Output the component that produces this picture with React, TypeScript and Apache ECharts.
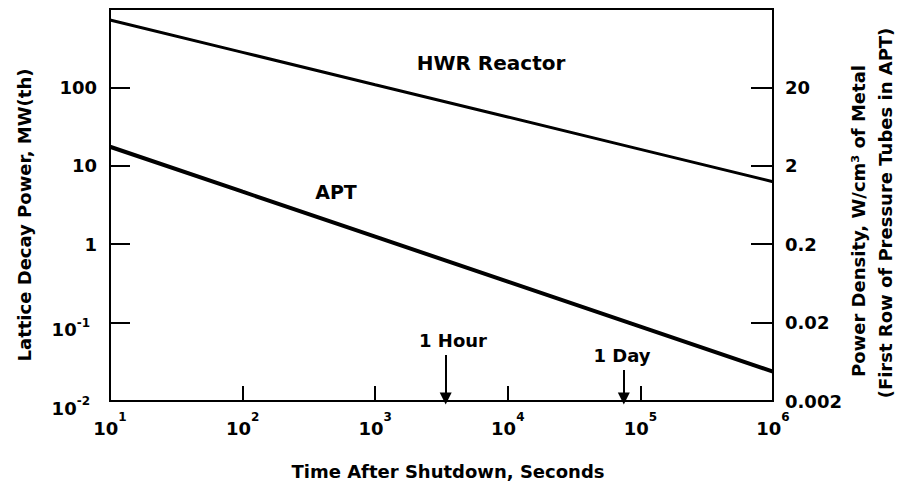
import React, { useEffect, useRef } from "react";
import * as echarts from "echarts";

// Time after shutdown, seconds
const times = [10, 100, 1000, 10000, 100000, 1000000];
// Lattice decay power, MW(th)
const hwrPower = [724, 280, 108, 41.9, 16.2, 6.27];
const aptPower = [17.5, 4.67, 1.25, 0.333, 0.0888, 0.0237];
// Right axis: power density labels at the left-axis decades
const rightTickLabels = ["0.002", "0.02", "0.2", "2", "20", ""];
const leftExponents = [-2, -1, 0, 1, 2, 3];
// Markers (time, arrow start value on left axis)
const hourMarker = { time: 3400, top: 0.0386, label: "1 Hour" };
const dayMarker = { time: 75000, top: 0.0248, label: "1 Day" };

const FONT = "DejaVu Sans";

export default function App() {
  const ref = useRef<HTMLDivElement>(null);
  useEffect(() => {
    if (!ref.current) return;
    const chart = echarts.init(ref.current, undefined, { renderer: "svg" });
    const expOf = (v: number) => Math.round(Math.log10(v));
    const textStyle = (fontSize: number) => ({
      fontFamily: FONT,
      fontWeight: "bold",
      fontSize,
      fill: "#000",
    });
    const centered = { textAlign: "center", textVerticalAlign: "middle", align: "center", verticalAlign: "middle" };
    const option: any = {
      animation: false,
      backgroundColor: "#fff",
      grid: {
        left: 110,
        top: 9,
        right: 125,
        bottom: 86,
        show: true,
        borderColor: "#000",
        borderWidth: 2,
        containLabel: false,
      },
      xAxis: {
        type: "log",
        logBase: 10,
        min: 10,
        max: 1000000,
        splitLine: { show: false },
        minorTick: { show: false },
        axisLine: { lineStyle: { color: "#000", width: 2 } },
        axisTick: { inside: true, length: 15, lineStyle: { color: "#000", width: 2 } },
        axisLabel: {
          margin: 10,
          hideOverlap: false,
          showMinLabel: true,
          showMaxLabel: true,
          color: "#000",
          formatter: (v: number) => `{b|10}{s|${expOf(v)}}`,
          rich: {
            b: { fontFamily: FONT, fontWeight: "bold", fontSize: 18, lineHeight: 26, verticalAlign: "bottom", color: "#000" },
            s: { fontFamily: FONT, fontWeight: "bold", fontSize: 12, lineHeight: 2, verticalAlign: "top", color: "#000" },
          },
        },
      },
      yAxis: [
        {
          type: "log",
          logBase: 10,
          min: 0.01,
          max: 1000,
          position: "left",
          splitLine: { show: false },
          axisLine: { show: true, lineStyle: { color: "#000", width: 2 } },
          axisTick: { show: true, inside: true, length: 20, lineStyle: { color: "#000", width: 2 } },
          axisLabel: {
            margin: 13,
            color: "#000",
            formatter: (v: number) => {
              const e = expOf(v);
              if (!leftExponents.includes(e) || e === 3) return "";
              if (e < 0) return `{b|10}{s|${e}}`;
              return `{n|${Math.pow(10, e)}}`;
            },
            rich: {
              n: { fontFamily: FONT, fontWeight: "bold", fontSize: 18, color: "#000" },
              b: { fontFamily: FONT, fontWeight: "bold", fontSize: 18, lineHeight: 14, verticalAlign: "bottom", color: "#000" },
              s: { fontFamily: FONT, fontWeight: "bold", fontSize: 12, lineHeight: 32, padding: [0, 7, 0, 0], color: "#000" },
            },
          },
        },
        {
          type: "log",
          logBase: 10,
          min: 0.01,
          max: 1000,
          position: "right",
          splitLine: { show: false },
          axisLine: { show: true, lineStyle: { color: "#000", width: 2 } },
          axisTick: { show: true, inside: true, length: 22, lineStyle: { color: "#000", width: 2 } },
          axisLabel: {
            margin: 12,
            color: "#000",
            fontFamily: FONT,
            fontWeight: "bold",
            fontSize: 18,
            formatter: (v: number) => {
              const i = leftExponents.indexOf(expOf(v));
              return i >= 0 ? rightTickLabels[i] : "";
            },
          },
        },
      ],
      series: [
        {
          name: "HWR Reactor",
          type: "line",
          yAxisIndex: 0,
          data: times.map((t, i) => [t, hwrPower[i]]),
          showSymbol: false,
          symbol: "none",
          lineStyle: { color: "#000", width: 3 },
        },
        {
          name: "APT",
          type: "line",
          yAxisIndex: 0,
          data: times.map((t, i) => [t, aptPower[i]]),
          showSymbol: false,
          symbol: "none",
          lineStyle: { color: "#000", width: 4 },
          markLine: {
            silent: true,
            symbol: ["none", "triangle"],
            symbolSize: 12,
            label: { show: false },
            lineStyle: { color: "#000", width: 2, type: "solid" },
            itemStyle: { color: "#000" },
            data: [
              [{ coord: [hourMarker.time, hourMarker.top] }, { coord: [hourMarker.time, 0.0108] }],
              [{ coord: [dayMarker.time, dayMarker.top] }, { coord: [dayMarker.time, 0.0108] }],
            ],
          },
        },
      ],
      graphic: [
        { type: "text", x: 491, y: 63, style: { ...textStyle(20), text: "HWR Reactor", ...centered } },
        { type: "text", x: 336, y: 192, style: { ...textStyle(19), text: "APT", ...centered } },
        { type: "text", x: 453, y: 340, style: { ...textStyle(18), text: hourMarker.label, ...centered } },
        { type: "text", x: 622, y: 355, style: { ...textStyle(18), text: dayMarker.label, ...centered } },
        { type: "text", x: 448, y: 471, style: { ...textStyle(18), text: "Time After Shutdown, Seconds", ...centered } },
        { type: "text", x: 24, y: 215, rotation: Math.PI / 2, style: { ...textStyle(18), text: "Lattice Decay Power, MW(th)", ...centered } },
        { type: "text", x: 858, y: 221, rotation: Math.PI / 2, style: { ...textStyle(18), text: "Power Density, W/cm\u00B3 of Metal", ...centered } },
        { type: "text", x: 885, y: 213, rotation: Math.PI / 2, style: { ...textStyle(18), text: "(First Row of Pressure Tubes in APT)", ...centered } },
      ],
    };
    chart.setOption(option);
    return () => chart.dispose();
  }, []);
  return (
    <div
      ref={ref}
      style={{ position: "fixed", left: 0, top: 0, width: 898, height: 487, background: "#fff" }}
    />
  );
}
